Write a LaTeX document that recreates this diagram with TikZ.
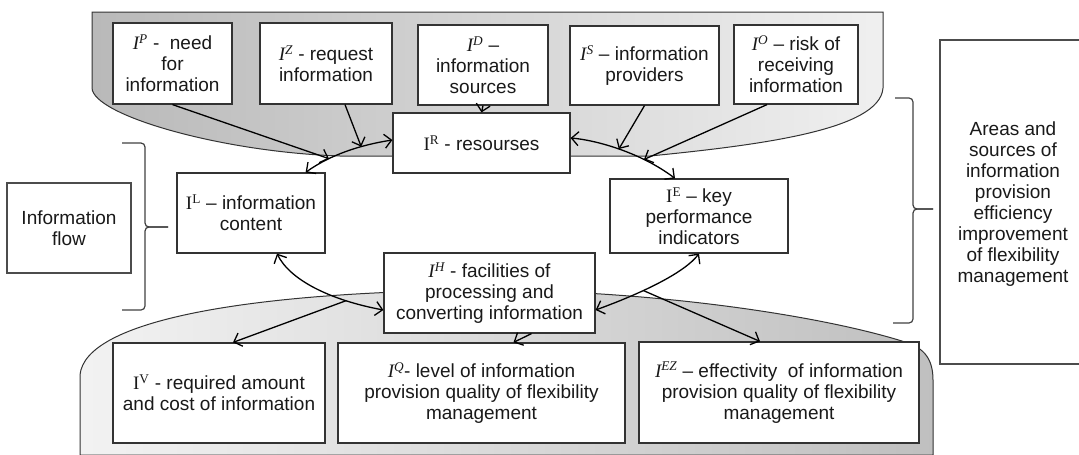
\documentclass[tikz,border=0pt]{standalone}
\usepackage{fontspec}
\setmainfont{Liberation Sans}
\newfontfamily\myserif{Liberation Serif}
\usetikzlibrary{arrows.meta}
\newcommand{\Ii}[1]{{\myserif\itshape I}\textsuperscript{\myserif\itshape #1}}
\newcommand{\Iu}[1]{{\myserif I}\textsuperscript{\myserif #1}}
\tikzset{
  box/.style={draw=black!80, line width=1.2pt, fill=white, align=center, inner sep=0pt,
    font=\fontsize{19}{21}\selectfont, text=black!90},
  lbl/.style={align=center, inner sep=0pt, font=\fontsize{19}{21}\selectfont, text=black!90},
  barb/.tip={Straight Barb[length=7pt,width=14pt]},
  arr/.style={line width=1.3pt, -barb},
  darr/.style={line width=1.3pt, barb-barb},
  zone/.style={draw=black!80, line width=1pt},
  brace/.style={draw=black!75, line width=1.2pt, rounded corners=4pt}
}
\begin{document}
\begin{tikzpicture}[x=1pt,y=-1pt]
\useasboundingbox (0,0) rectangle (1079,455);
% gray zones
\path[zone, left color=gray!55, right color=gray!12]
  (92,12) -- (883,12) -- (883,88) .. controls (880,130) and (760,145) .. (650,156)
  -- (340,156) .. controls (220,152) and (93,115) .. (92,88) -- cycle;
\path[zone, left color=gray!10, right color=gray!50]
  (80,455) -- (80,375) .. controls (85,320) and (250,292) .. (480,290)
  .. controls (650,290) and (820,315) .. (905,342)
  .. controls (925,348) and (933,360) .. (933,380) -- (933,455) -- cycle;
% braces
\draw[brace] (122,143) -- (145,143) -- (145,227) -- (168,227);
\draw[brace] (168,227) -- (145,227) -- (145,310) -- (122,310);
\draw[brace] (895,98) -- (913,98) -- (913,209) -- (933,209);
\draw[brace] (933,209) -- (913,209) -- (913,323) -- (893,323);
% right frame
\draw[draw=black!70, line width=1.2pt] (1079,40) -- (940,40) -- (940,364) -- (1079,364);
\node[lbl] (areas) at (1013,204) {Areas and\\sources of\\information\\provision\\efficiency\\improvement\\of flexibility\\management};
% boxes
\node[box, draw=black!70, minimum width=124pt, minimum height=90pt] (flow) at (69,228) {Information\\flow};
\node[box, minimum width=119pt, minimum height=81pt] (IP) at (172.5,63.5) {\Ii{P} -\ \ need\\for\\information};
\node[box, minimum width=132pt, minimum height=81pt] (IZ) at (326,63.5) {\Ii{Z} - request\\information};
\node[box, minimum width=130pt, minimum height=80pt] (ID) at (483,65) {\Ii{D} –\\information\\sources};
\node[box, minimum width=149pt, minimum height=79pt] (IS) at (644.5,65.5) {\Ii{S} – information\\providers};
\node[box, minimum width=124pt, minimum height=79pt] (IO) at (796,64.5) {\Ii{O} – risk of\\receiving\\information};
\node[box, minimum width=177pt, minimum height=60pt] (IR) at (481.5,143) {\Iu{R} - resourses};
\node[box, minimum width=148pt, minimum height=80pt] (IL) at (251,213) {\Iu{L} – information\\content};
\node[box, minimum width=178pt, minimum height=74pt] (IE) at (699,216) {\Iu{E} – key\\performance\\indicators};
\node[box, minimum width=211pt, minimum height=80pt] (IH) at (489.5,293) {\Ii{H} - facilities of\\processing and\\converting information};
\node[box, minimum width=212pt, minimum height=100pt] (IV) at (219,393) {\Iu{V} - required amount\\and cost of information};
\node[box, minimum width=287pt, minimum height=100pt] (IQ) at (481.5,393) {\Ii{Q}- level of information\\provision quality of flexibility\\management};
\node[box, minimum width=280pt, minimum height=101pt] (IEZ) at (779,392.5) {\Ii{EZ} – effectivity\ \ of information\\provision quality of flexibility\\management};
% cycle curves
\draw[darr] ([xshift=-20pt]IL.north east) .. controls (330,155) and (360,145) .. ([yshift=3pt]IR.west)
  coordinate[pos=0.3] (c1a) coordinate[pos=0.67] (c1b);
\draw[darr] ([yshift=5pt]IR.east) .. controls (595,140) and (640,152) .. ([xshift=-24pt]IE.north)
  coordinate[pos=0.5] (c2a) coordinate[pos=0.72] (c2b);
\draw[darr] ([xshift=26pt]IL.south) .. controls (290,280) and (330,300) .. ([yshift=-17pt]IH.west)
  coordinate[pos=0.75] (c3a);
\draw[darr] (IE.south) .. controls (685,272) and (645,292) .. ([yshift=-17pt]IH.east)
  coordinate[pos=0.65] (c4a);
% arrows into the cycle
\draw[arr] (IP.south) -- (c1a);
\draw[arr] ([xshift=19pt]IZ.south) -- (c1b);
\draw[arr] (ID.south) -- (IR.north);
\draw[arr] (IS.south) -- (c2a);
\draw[arr] ([xshift=-29pt]IO.south) -- (c2b);
% arrows out of the cycle
\draw[arr] (c3a) -- ([xshift=14pt]IV.north);
\draw[arr] ([xshift=42pt]IH.south) -- ([xshift=32pt]IQ.north);
\draw[arr] (c4a) -- ([xshift=-19pt]IEZ.north);
\end{tikzpicture}
\end{document}
